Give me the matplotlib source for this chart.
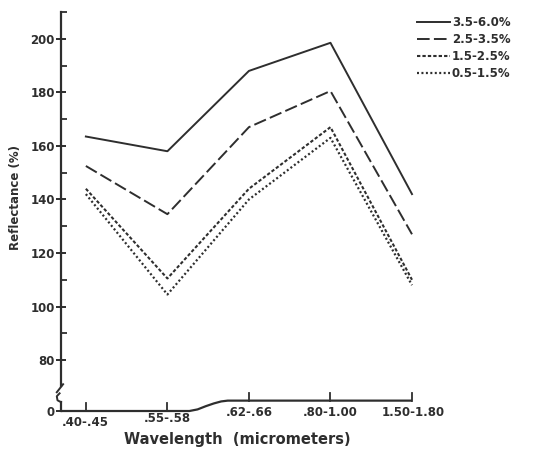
import matplotlib
matplotlib.use("Agg")
import matplotlib.pyplot as plt
import matplotlib.transforms as mtrans

# ---- data ----
categories = [".40-.45", ".55-.58", ".62-.66", ".80-1.00", "1.50-1.80"]
series_labels = ["3.5-6.0%", "2.5-3.5%", "1.5-2.5%", "0.5-1.5%"]
s_35_60 = [163.5, 158.0, 188.0, 198.5, 142.0]
s_25_35 = [152.5, 134.5, 167.0, 180.5, 127.0]
s_15_25 = [144.0, 110.5, 144.0, 167.0, 110.0]
s_05_15 = [142.0, 104.5, 140.0, 163.0, 108.0]
ytick_vals = [80, 100, 120, 140, 160, 180, 200]
yminor_vals = [90, 110, 130, 150, 170, 190, 210]

ink = "#2e2e2e"
plt.rcParams["font.family"] = ["DejaVu Sans"]

fig = plt.figure(figsize=(5.34, 4.49), dpi=100)
ax = fig.add_axes([61/534, (449-411)/449, (412-61)/534, (411-12)/449])
ymin, ymax = 61.0, 210.0
ax.set_ylim(ymin, ymax)
ax.set_xlim(-0.305, 4.0)

xs = list(range(len(categories)))
styles = [
    dict(linestyle="-", lw=1.4),
    dict(linestyle=(0, (6.5, 2.2)), lw=1.4),
    dict(linestyle=(0, (1.6, 1.0)), lw=1.5),
    dict(linestyle=(0, (0.9, 1.1)), lw=1.6),
]
series = [s_35_60, s_25_35, s_15_25, s_05_15]
handles = []
for vals, st, lab in zip(series, styles, series_labels):
    h, = ax.plot(xs, vals, color=ink, clip_on=False, label=lab, **st)
    handles.append(h)

# spines
for s in ["top", "right", "bottom"]:
    ax.spines[s].set_visible(False)
ax.spines["left"].set_color(ink)
ax.spines["left"].set_linewidth(1.6)
ax.spines["left"].set_bounds(70.5, ymax)

# y-axis break decoration
ytr = mtrans.blended_transform_factory(ax.transAxes, ax.transData)
ax.plot([0, 0], [ymin, 64.3], color=ink, lw=1.6, transform=ytr, clip_on=False)
ax.plot([-0.012, 0.006], [68.0, 71.0], color=ink, lw=1.4, transform=ytr, clip_on=False)
ax.plot([0.0, -0.010, -0.012, -0.004], [64.3, 65.0, 66.5, 67.6], color=ink, lw=1.4,
        transform=ytr, clip_on=False)

# y ticks
ax.set_yticks([ymin] + ytick_vals)
ax.set_yticklabels(["0"] + [str(v) for v in ytick_vals])
ax.set_yticks(yminor_vals, minor=True)
ax.tick_params(axis="y", which="major", direction="inout", length=7, width=1.4,
               color=ink, labelsize=8.5, labelcolor=ink, pad=1)
ax.tick_params(axis="y", which="minor", direction="in", length=4, width=1.3, color=ink)
for lbl in ax.get_yticklabels():
    lbl.set_fontweight("bold")

# x axis: hand-drawn baseline
ax.set_xticks([])
xtr = ax.get_xaxis_transform()
base_x = [-0.305, 1.27, 1.37, 1.47, 1.57, 1.66, 1.74, 4.0]
base_y = [0.0, 0.0, 0.004, 0.012, 0.019, 0.024, 0.026, 0.026]
ax.plot(base_x, base_y, color=ink, lw=1.6, transform=xtr, clip_on=False,
        solid_capstyle="butt")
tick_base = [0.0, 0.0, 0.026, 0.026, 0.026]
for x, b in zip(xs, tick_base):
    ax.plot([x, x], [b, b + 0.019], color=ink, lw=1.3, transform=xtr, clip_on=False)

label_y_px = [422, 418, 413, 413, 413]
label_dx = [-0.01, 0.0, 0.0, 0.0, 0.01]
for x, lab, ypx, dx in zip(xs, categories, label_y_px, label_dx):
    ax.text(x + dx, (411 - ypx) / 399, lab, transform=xtr, ha="center", va="center",
            fontsize=8.5, fontweight="bold", color=ink)

ax.set_xlabel("Wavelength  (micrometers)", fontsize=10.5, fontweight="bold",
              color=ink, labelpad=0)
ax.xaxis.set_label_coords((237 - 61) / 351, (411 - 432) / 399)
ax.set_ylabel("Reflectance (%)", fontsize=8.5, fontweight="bold", color=ink)
ax.yaxis.set_label_coords((22 - 61) / 351, (411 - 197) / 399)

leg = fig.legend(handles=handles, loc="upper left",
                 bbox_to_anchor=(417/534, (449 - 16)/449), frameon=False,
                 prop=dict(size=8.5, weight="bold"), handlelength=2.8,
                 handletextpad=0.15, labelspacing=0.35, borderpad=0, borderaxespad=0)
for t in leg.get_texts():
    t.set_color(ink)

fig.savefig("out.png", dpi=100)
